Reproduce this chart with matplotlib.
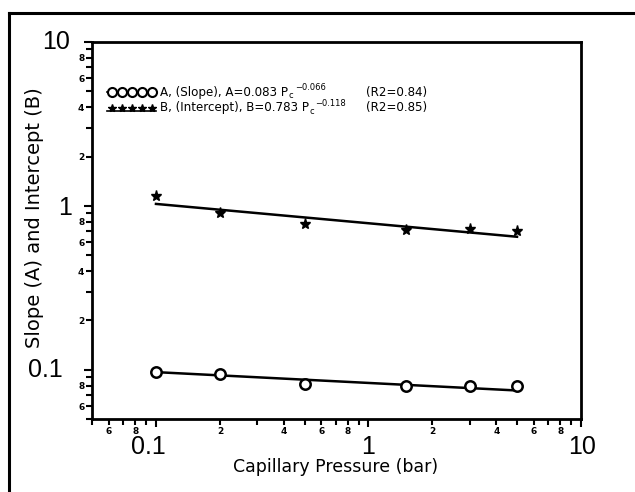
import matplotlib
matplotlib.use("Agg")
import matplotlib.pyplot as plt
import numpy as np
from matplotlib.ticker import FixedLocator, LogLocator, FuncFormatter, NullFormatter
from matplotlib.lines import Line2D
from matplotlib.transforms import (blended_transform_factory, offset_copy,
                                   IdentityTransform)

# Measured values versus capillary pressure
pressure = [0.1, 0.2, 0.5, 1.5, 3.0, 5.0]
slope_a = [0.097, 0.094, 0.082, 0.079, 0.080, 0.079]
intercept_b = [1.15, 0.91, 0.77, 0.71, 0.72, 0.70]

# Power-law fits  y = coef * Pc ** exp
a_coef, a_exp, a_r2 = 0.083, -0.066, 0.84
b_coef, b_exp, b_r2 = 0.783, -0.118, 0.85

x_major_labels = ["0.1", "1", "10"]
y_major_labels = ["10", "1", "0.1"]
minor_digits = [2, 4, 6, 8]

W, H = 635, 492
fig = plt.figure(figsize=(W / 100, H / 100), dpi=100)
ax = fig.add_axes([92 / W, (H - 419) / H, 489 / W, 377 / H])

ax.set_xscale("log")
ax.set_yscale("log")
ax.set_xlim(0.05, 10)
ax.set_ylim(0.05, 10)

# fit lines
p_fit = np.logspace(np.log10(pressure[0]), np.log10(pressure[-1]), 100)
ax.plot(p_fit, a_coef * p_fit ** a_exp, color="black", lw=1.8)
ax.plot(p_fit, b_coef * p_fit ** b_exp, color="black", lw=1.8)

# data points
ax.plot(pressure, slope_a, ls="none", marker="o", ms=7.5, mfc="white",
        mec="black", mew=1.8)
ax.plot(pressure, intercept_b, ls="none", marker="*", ms=8, mfc="black",
        mec="black", mew=1.0)

# axes frame and ticks
for sp in ax.spines.values():
    sp.set_linewidth(2.0)

for axis in (ax.xaxis, ax.yaxis):
    axis.set_major_locator(FixedLocator([0.1, 1, 10]))
    axis.set_minor_locator(LogLocator(base=10, subs=np.arange(2, 10)))
    axis.set_major_formatter(NullFormatter())


def minor_fmt(v, pos):
    d = int(round(v / 10 ** np.floor(np.log10(v) + 1e-9)))
    return str(d) if d in minor_digits else ""


ax.xaxis.set_minor_formatter(FuncFormatter(minor_fmt))
ax.yaxis.set_minor_formatter(FuncFormatter(minor_fmt))
ax.tick_params(which="both", direction="out", width=1.5, colors="black")
ax.tick_params(which="major", length=6)
ax.tick_params(which="minor", length=4, labelsize=6.5, pad=1.5)
for lab in ax.get_xticklabels(minor=True) + ax.get_yticklabels(minor=True):
    lab.set_fontweight("bold")

# large decade labels
major_font = dict(family=["Liberation Sans", "DejaVu Sans"], fontsize=18,
                  color="black")
tx = blended_transform_factory(ax.transData, ax.transAxes)
x_shift = [-8, 0, 1]
for v, lab, dx in zip([0.1, 1, 10], x_major_labels, x_shift):
    ax.text(v, 0, lab, transform=offset_copy(tx, fig=fig, x=dx * 0.72, y=-28 * 0.72,
                                             units="points"),
            ha="center", va="center", **major_font)
ty = blended_transform_factory(ax.transAxes, ax.transData)
y_shift = [(-22, 0), (-20, -2), (-29, 0)]
for v, lab, (dx, dy) in zip([10, 1, 0.1], y_major_labels, y_shift):
    ax.text(0, v, lab, transform=offset_copy(ty, fig=fig, x=dx * 0.72, y=dy * 0.72,
                                             units="points"),
            ha="right", va="center", **major_font)

# axis titles
ax.set_xlabel("Capillary Pressure (bar)", fontsize=12.5)
ax.set_ylabel("Slope (A) and Intercept (B)", fontsize=14)
ax.xaxis.set_label_coords((336 - 92) / 489, (419 - 467) / 377)
ax.xaxis.label.set_va("center")
ax.yaxis.set_label_coords((35 - 92) / 489, (419 - 218) / 377)
ax.yaxis.label.set_va("center")


# key inside the plot
def fx(px):
    return (px - 92) / 489


def fy(py):
    return (419 - py) / 377


key_font = dict(family="DejaVu Sans", fontsize=8.6, color="black", va="center")
small_font = dict(family="DejaVu Sans", fontsize=6, color="black", va="center")
row1, row2 = fy(92), fy(108)
key_x = [fx(v) for v in (112, 122, 132, 142, 152)]
ax.plot([fx(107), fx(156)], [row1, row1], color="black", lw=1.2,
        transform=ax.transAxes, clip_on=False)
ax.plot(key_x, [row1] * 5, ls="none", marker="o", ms=6.5, mfc="white",
        mec="black", mew=1.5, transform=ax.transAxes, clip_on=False)
ax.plot([fx(107), fx(156)], [row2 - 0.008, row2 - 0.008], color="black", lw=1.2,
        transform=ax.transAxes, clip_on=False)
ax.plot(key_x, [row2] * 5, ls="none", marker="*", ms=6, mfc="black",
        mec="black", transform=ax.transAxes, clip_on=False)

renderer = fig.canvas.get_renderer()
# x in pixels, y in axes fraction
px_axes = blended_transform_factory(IdentityTransform(), ax.transAxes)


def key_row(y, head, exp, r2):
    # head text, then P with a small subscript c and a raised exponent
    t = ax.text(fx(160), y, head + " P", transform=ax.transAxes, **key_font)
    x_end = t.get_window_extent(renderer).x1
    sub = ax.text(x_end + 0.5, y, "c",
                  transform=offset_copy(px_axes, fig=fig, y=-3 * 0.72,
                                        units="points"),
                  **small_font)
    sub_end = sub.get_window_extent(renderer).x1
    ax.text(sub_end + 1.5, y, "\u2212%.3f" % abs(exp),
            transform=offset_copy(px_axes, fig=fig, y=5 * 0.72, units="points"),
            **small_font)
    ax.text(fx(366), y, "(R2=%.2f)" % r2, transform=ax.transAxes, **key_font)


key_row(row1, "A, (Slope), A=%.3f" % a_coef, a_exp, a_r2)
key_row(row2, "B, (Intercept), B=%.3f" % b_coef, b_exp, b_r2)

# outer border of the figure panel
fig.add_artist(Line2D([9 / W, 1.0], [1 - 13 / H, 1 - 13 / H], color="black",
                      lw=2.2, transform=fig.transFigure))
fig.add_artist(Line2D([9 / W, 9 / W], [1 - 13 / H, 0.0], color="black",
                      lw=2.2, transform=fig.transFigure))

fig.savefig("out.png", dpi=100)
